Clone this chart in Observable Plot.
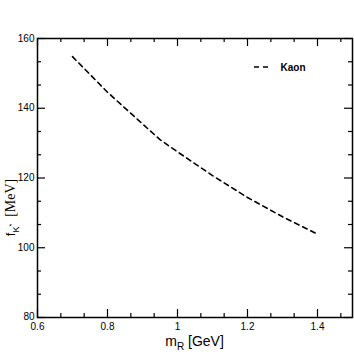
<!DOCTYPE html>
<html>
<head>
<meta charset="utf-8">
<script src="https://cdn.jsdelivr.net/npm/d3@7"></script>
<script src="https://cdn.jsdelivr.net/npm/@observablehq/plot@0.6"></script>
<style>
  html, body { margin: 0; padding: 0; background: #fff; }
  #chart { width: 354px; height: 354px; }
</style>
</head>
<body>
<div id="chart"></div>
<script>
// Data
const mR = [0.7, 0.8, 0.9, 0.95, 1.0, 1.1, 1.2, 1.3, 1.4];
const fK = [154.8, 144.6, 135.5, 131.0, 127.5, 120.7, 114.4, 108.9, 103.9];
const seriesName = "Kaon";
const xMajorTicks = [0.6, 0.8, 1.0, 1.2, 1.4];
const xTickLabels = ["0.6", "0.8", "1", "1.2", "1.4"];
const xMinorTicks = [0.6667, 0.7333, 0.8667, 0.9333, 1.0667, 1.1333, 1.2667, 1.3333, 1.4667];
const yMajorTicks = [80, 100, 120, 140, 160];
const yTickLabels = ["80", "100", "120", "140", "160"];
const yMinorTicks = [86.667, 93.333, 106.667, 113.333, 126.667, 133.333, 146.667, 153.333];

const data = mR.map((x, i) => ({x, y: fK[i]}));

const W = 354, H = 354;
const mL = 37, mR_ = 2, mT = 38, mB = 37;
const plotW = W - mL - mR_, plotH = H - mT - mB;
const tickFont = "'Liberation Sans Narrow', 'Arial Narrow', 'Liberation Sans', sans-serif";
const majorLen = 8, minorLen = 4;
const tc = "#000";

const chart = Plot.plot({
  width: W,
  height: H,
  marginLeft: mL,
  marginRight: mR_,
  marginTop: mT,
  marginBottom: mB,
  style: {fontFamily: tickFont, fontSize: "10px", color: "#000", background: "#fff"},
  x: {domain: [0.6, 1.5], label: null},
  y: {domain: [80, 160], label: null},
  marks: [
    Plot.axisX(xMajorTicks, {anchor: "bottom", tickSize: 0, tickPadding: 5, tickFormat: (d) => xTickLabels[xMajorTicks.indexOf(d)], label: null, fontSize: 10}),
    Plot.axisY(yMajorTicks, {anchor: "left", tickSize: 0, tickPadding: 3, tickFormat: (d) => yTickLabels[yMajorTicks.indexOf(d)], label: null, fontSize: 10}),
    Plot.tickX(xMajorTicks, {x: d => d, insetTop: plotH - majorLen, stroke: tc, strokeWidth: 1.2}),
    Plot.tickX(xMajorTicks, {x: d => d, insetBottom: plotH - majorLen, stroke: tc, strokeWidth: 1.2}),
    Plot.tickY(yMajorTicks, {y: d => d, insetRight: plotW - majorLen, stroke: tc, strokeWidth: 1.2}),
    Plot.tickY(yMajorTicks, {y: d => d, insetLeft: plotW - majorLen, stroke: tc, strokeWidth: 1.2}),
    Plot.tickX(xMinorTicks, {x: d => d, insetTop: plotH - minorLen, stroke: tc, strokeWidth: 1.2}),
    Plot.tickX(xMinorTicks, {x: d => d, insetBottom: plotH - minorLen, stroke: tc, strokeWidth: 1.2}),
    Plot.tickY(yMinorTicks, {y: d => d, insetRight: plotW - minorLen, stroke: tc, strokeWidth: 1.2}),
    Plot.tickY(yMinorTicks, {y: d => d, insetLeft: plotW - minorLen, stroke: tc, strokeWidth: 1.2}),
    Plot.frame({stroke: "#000", strokeWidth: 1.5}),
    Plot.line(data, {x: "x", y: "y", stroke: "#000", strokeWidth: 1.6, strokeDasharray: "5,4"})
  ]
});

const svg = d3.select(chart);
svg.selectAll("text").filter(function() { return d3.select(this).text() === "80"; }).attr("dy", "-0.1em");

const xt = svg.append("text")
  .attr("x", mL + plotW / 2)
  .attr("y", 346)
  .attr("text-anchor", "middle")
  .style("font-family", "'Liberation Sans', Arial, sans-serif")
  .style("font-size", "14px")
  .attr("fill", "#000");
xt.append("tspan").text("m");
xt.append("tspan").attr("dy", "4").style("font-size", "10px").text("R");
xt.append("tspan").attr("dy", "-4").text(" [GeV]");

const yt = svg.append("text")
  .attr("transform", `translate(15, ${mT + plotH / 2 + 30}) rotate(-90)`)
  .attr("text-anchor", "middle")
  .style("font-family", "'Liberation Serif', 'Times New Roman', serif")
  .style("font-size", "14px")
  .attr("fill", "#000");
yt.append("tspan").style("font-family", "'Liberation Sans', Arial, sans-serif").style("font-size", "13px").text("f");
yt.append("tspan").attr("dy", "4").style("font-size", "9px").style("font-family", "'Liberation Sans', Arial, sans-serif").text("K");
yt.append("tspan").attr("dy", "-5").style("font-size", "7px").style("font-family", "'Liberation Sans', Arial, sans-serif").text("*");
yt.append("tspan").attr("dy", "1").text("\u00a0\u00a0[MeV]");

const lg = svg.append("g");
lg.append("line").attr("x1", 254).attr("x2", 272).attr("y1", 67).attr("y2", 67)
  .attr("stroke", "#000").attr("stroke-width", 1.6).attr("stroke-dasharray", "5,4");
lg.append("text").attr("x", 293).attr("y", 67).attr("dy", "0.35em")
  .style("font-family", "'Liberation Sans', Arial, sans-serif").style("font-weight", "bold").style("font-size", "10px")
  .attr("fill", "#000").text(seriesName);

document.getElementById("chart").appendChild(chart);
</script>
</body>
</html>
